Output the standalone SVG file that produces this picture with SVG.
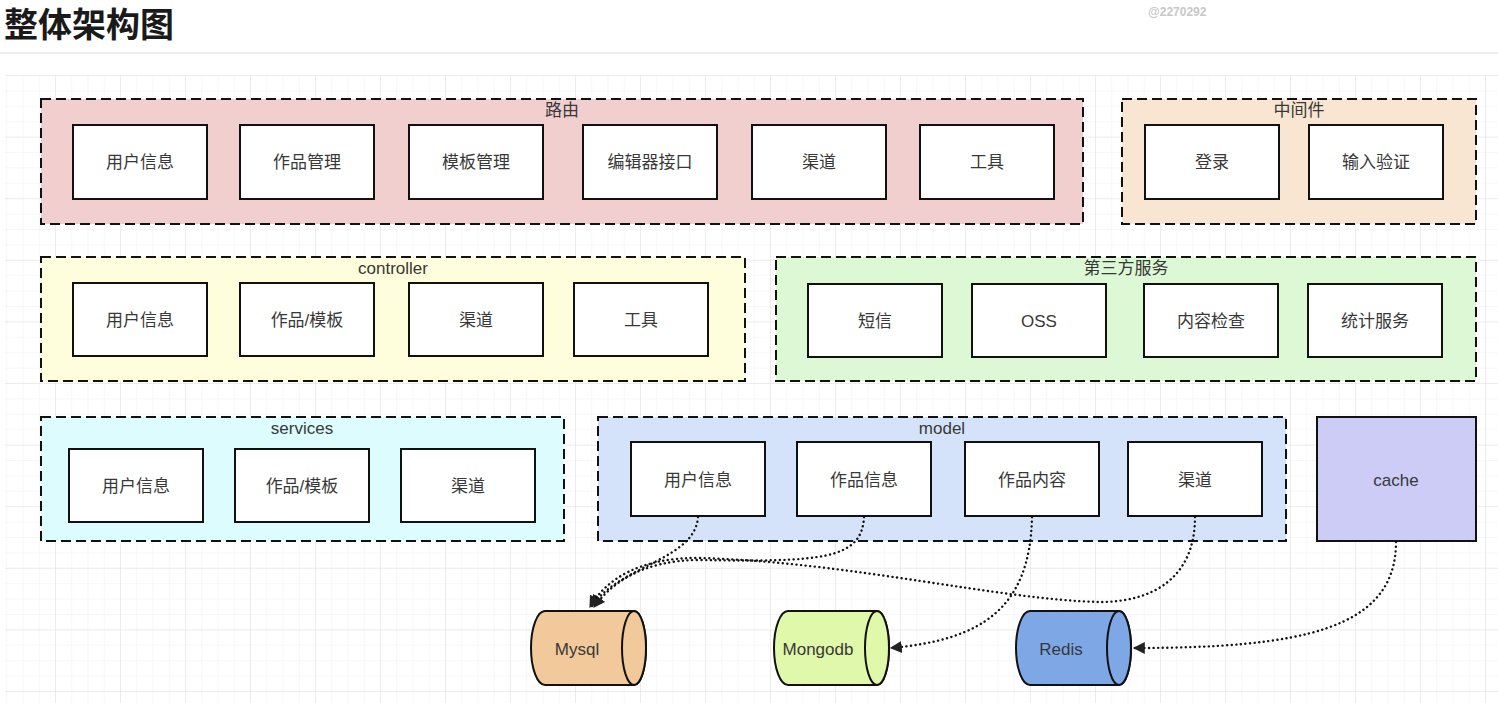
<svg xmlns="http://www.w3.org/2000/svg" width="1498" height="703" viewBox="0 0 1498 703">
<defs>
<pattern id="minor" patternUnits="userSpaceOnUse" x="-10" y="75" width="16.25" height="15.4">
<path d="M0 0H16.25M0 0V15.4" fill="none" stroke="#f0f0f0" stroke-width="1"/>
</pattern>
<pattern id="major" patternUnits="userSpaceOnUse" x="-10" y="75" width="65" height="61.6">
<path d="M0 0H65M0 0V61.6" fill="none" stroke="#e4e4e4" stroke-width="1.2"/>
</pattern>
<marker id="arr" viewBox="0 0 10 10" refX="9" refY="5" markerWidth="12" markerHeight="12" markerUnits="userSpaceOnUse" orient="auto">
<path d="M0 0L10 5L0 10z" fill="#222"/>
</marker>
<style>
.grp{stroke:#111;stroke-width:2;stroke-dasharray:10 5}
.node{fill:#fff;stroke:#111;stroke-width:2}
.t{font-family:"Liberation Sans","Noto Sans CJK SC",sans-serif;font-size:17px;fill:#383838;text-anchor:middle;dominant-baseline:central}
.conn{fill:none;stroke:#111;stroke-width:2.4;stroke-dasharray:0.1 4.5;stroke-linecap:round}
.cyl{stroke:#111;stroke-width:2}
</style>
</defs>
<rect width="1498" height="703" fill="#fff"/>
<rect x="5" y="75" width="1493" height="628" fill="url(#minor)"/>
<rect x="5" y="75" width="1493" height="628" fill="url(#major)"/>
<text x="4" y="37" font-family="'Noto Sans CJK SC',sans-serif" font-size="34" font-weight="bold" fill="#1a1a1a">整体架构图</text>
<text x="1148" y="16" font-family="'Liberation Sans',sans-serif" font-size="12" font-weight="bold" fill="#c8c8c8">@2270292</text>
<line x1="0" y1="53" x2="1498" y2="53" stroke="#e8e8e8" stroke-width="1.5"/>

<g id="g-route">
<rect class="grp" x="41" y="99" width="1042" height="125" fill="#f1cfcf"/>
<text class="t" x="562" y="110">路由</text>
<g id="route-user"><rect class="node" x="73" y="125" width="134" height="74"/><text class="t" x="140" y="162">用户信息</text></g>
<g id="route-work"><rect class="node" x="240" y="125" width="134" height="74"/><text class="t" x="307" y="162">作品管理</text></g>
<g id="route-tpl"><rect class="node" x="409" y="125" width="134" height="74"/><text class="t" x="476" y="162">模板管理</text></g>
<g id="route-editor"><rect class="node" x="583" y="125" width="134" height="74"/><text class="t" x="650" y="162">编辑器接口</text></g>
<g id="route-channel"><rect class="node" x="752" y="125" width="134" height="74"/><text class="t" x="819" y="162">渠道</text></g>
<g id="route-tool"><rect class="node" x="920" y="125" width="134" height="74"/><text class="t" x="987" y="162">工具</text></g>
</g>

<g id="g-middleware">
<rect class="grp" x="1122" y="99" width="354" height="125" fill="#f8e5d2"/>
<text class="t" x="1299" y="110">中间件</text>
<g id="mw-login"><rect class="node" x="1145" y="125" width="134" height="74"/><text class="t" x="1212" y="162">登录</text></g>
<g id="mw-valid"><rect class="node" x="1309" y="125" width="134" height="74"/><text class="t" x="1376" y="162">输入验证</text></g>
</g>

<g id="g-controller">
<rect class="grp" x="41" y="257" width="704" height="124" fill="#fefedc"/>
<text class="t" x="393" y="268">controller</text>
<g id="ctl-user"><rect class="node" x="73" y="283" width="134" height="73"/><text class="t" x="140" y="320">用户信息</text></g>
<g id="ctl-work"><rect class="node" x="240" y="283" width="134" height="73"/><text class="t" x="307" y="320">作品/模板</text></g>
<g id="ctl-channel"><rect class="node" x="409" y="283" width="134" height="73"/><text class="t" x="476" y="320">渠道</text></g>
<g id="ctl-tool"><rect class="node" x="574" y="283" width="134" height="73"/><text class="t" x="641" y="320">工具</text></g>
</g>

<g id="g-third">
<rect class="grp" x="776" y="257" width="700" height="124" fill="#dcf8d4"/>
<text class="t" x="1126" y="268">第三方服务</text>
<g id="tp-sms"><rect class="node" x="808" y="284" width="134" height="73"/><text class="t" x="875" y="321">短信</text></g>
<g id="tp-oss"><rect class="node" x="972" y="284" width="134" height="73"/><text class="t" x="1039" y="321">OSS</text></g>
<g id="tp-check"><rect class="node" x="1144" y="284" width="134" height="73"/><text class="t" x="1211" y="321">内容检查</text></g>
<g id="tp-stat"><rect class="node" x="1308" y="284" width="134" height="73"/><text class="t" x="1375" y="321">统计服务</text></g>
</g>

<g id="g-services">
<rect class="grp" x="41" y="417" width="523" height="124" fill="#dcfcfe"/>
<text class="t" x="302" y="428">services</text>
<g id="svc-user"><rect class="node" x="69" y="449" width="134" height="73"/><text class="t" x="136" y="486">用户信息</text></g>
<g id="svc-work"><rect class="node" x="235" y="449" width="134" height="73"/><text class="t" x="302" y="486">作品/模板</text></g>
<g id="svc-channel"><rect class="node" x="401" y="449" width="134" height="73"/><text class="t" x="468" y="486">渠道</text></g>
</g>

<g id="g-model">
<rect class="grp" x="598" y="417" width="688" height="124" fill="#d4e3f9"/>
<text class="t" x="942" y="428">model</text>
<g id="m-user"><rect class="node" x="631" y="442" width="134" height="74"/><text class="t" x="698" y="480">用户信息</text></g>
<g id="m-workinfo"><rect class="node" x="797" y="442" width="134" height="74"/><text class="t" x="864" y="480">作品信息</text></g>
<g id="m-workcontent"><rect class="node" x="965" y="442" width="134" height="74"/><text class="t" x="1032" y="480">作品内容</text></g>
<g id="m-channel"><rect class="node" x="1128" y="442" width="134" height="74"/><text class="t" x="1195" y="480">渠道</text></g>
</g>

<g id="cache">
<rect x="1317" y="417" width="159" height="124" fill="#ccccf6" stroke="#111" stroke-width="2"/>
<text class="t" x="1396" y="480">cache</text>
</g>

<g id="mysql">
<path class="cyl" d="M545 611H634A12 37 0 0 1 634 685H545A14 37 0 0 1 545 611z" fill="#f2c99b"/>
<ellipse class="cyl" cx="634" cy="648" rx="12" ry="37" fill="#f2c99b"/>
<text class="t" x="577" y="649">Mysql</text>
</g>
<g id="mongodb">
<path class="cyl" d="M788 611H877A12 37 0 0 1 877 685H788A14 37 0 0 1 788 611z" fill="#e0f8a9"/>
<ellipse class="cyl" cx="877" cy="648" rx="12" ry="37" fill="#e0f8a9"/>
<text class="t" x="818" y="649">Mongodb</text>
</g>
<g id="redis">
<path class="cyl" d="M1030 611H1119A12 37 0 0 1 1119 685H1030A14 37 0 0 1 1030 611z" fill="#7ea7e6"/>
<ellipse class="cyl" cx="1119" cy="648" rx="12" ry="37" fill="#7ea7e6"/>
<text class="t" x="1061" y="649">Redis</text>
</g>

<g id="connectors">
<path class="conn" d="M698 517C695 560 620 565 592 606" marker-end="url(#arr)"/>
<path class="conn" d="M864 517C862 560 820 562 700 560C640 560 610 585 594 607" marker-end="url(#arr)"/>
<path class="conn" d="M1195 517C1195 580 1150 602 1100 602C1000 600 850 562 700 558C640 557 605 580 590 607" marker-end="url(#arr)"/>
<path class="conn" d="M1032 517C1030 610 980 640 891 648" marker-end="url(#arr)"/>
<path class="conn" d="M1396 542C1396 630 1300 648 1134 648" marker-end="url(#arr)"/>
</g>
</svg>
